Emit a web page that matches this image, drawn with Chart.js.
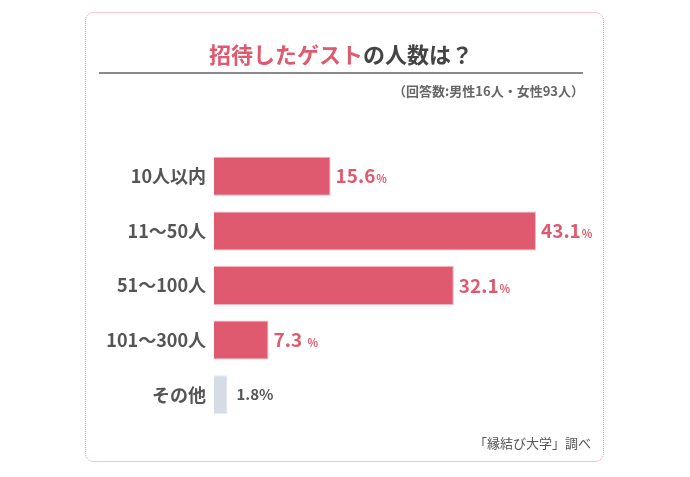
<!DOCTYPE html>
<html lang="ja">
<head>
<meta charset="utf-8">
<title>招待したゲストの人数は？</title>
<script src="https://cdn.jsdelivr.net/npm/chart.js@4"></script>
<style>
  html, body { margin: 0; padding: 0; background: #fff; }
  #wrap { position: relative; width: 690px; height: 477px; }
</style>
</head>
<body>
<div id="wrap"><canvas id="guest-chart" width="690" height="477"></canvas></div>
<script>
// data
const categories = ['10人以内', '11〜50人', '51〜100人', '101〜300人', 'その他'];
const shares = [15.6, 43.1, 32.1, 7.3, 1.8];
const valueLabels = ['15.6', '43.1', '32.1', '7.3 ', '1.8'];
const barColors = ['#df5a6e', '#df5a6e', '#df5a6e', '#df5a6e', '#d6dce6'];

const FONT = '"Noto Sans CJK JP", "Noto Sans", sans-serif';
const RED = '#df5a6e';

// card, title, note, footnote
const framePlugin = {
  id: 'frame',
  beforeDraw(chart) {
    const { ctx } = chart;
    ctx.save();
    ctx.fillStyle = '#fff';
    ctx.fillRect(0, 0, chart.width, chart.height);
    ctx.strokeStyle = '#ec8fa2';
    ctx.lineWidth = 1;
    ctx.setLineDash([1, 1]);
    ctx.beginPath();
    ctx.roundRect(85.5, 12.5, 518, 449, 8);
    ctx.stroke();
    ctx.setLineDash([]);

    // title, two colours
    ctx.font = `bold 22px ${FONT}`;
    ctx.textBaseline = 'middle';
    const red = '招待したゲスト', rest = 'の人数は？';
    const wr = ctx.measureText(red).width, wt = ctx.measureText(rest).width;
    let x = 341 - (wr + wt) / 2;
    ctx.textAlign = 'left';
    ctx.fillStyle = RED;
    ctx.fillText(red, x, 55);
    ctx.fillStyle = '#444';
    ctx.fillText(rest, x + wr, 55);

    ctx.strokeStyle = '#8a8a8a';
    ctx.lineWidth = 2;
    ctx.beginPath();
    ctx.moveTo(99, 73);
    ctx.lineTo(583, 73);
    ctx.stroke();

    ctx.font = `bold 13px ${FONT}`;
    ctx.fillStyle = '#666';
    ctx.textAlign = 'right';
    ctx.fillText('（回答数:男性16人・女性93人）', 584, 91);

    ctx.font = `13px ${FONT}`;
    ctx.fillStyle = '#555';
    ctx.fillText('「縁結び大学」調べ', 591, 443);
    ctx.restore();
  }
};

// value labels at bar ends
const valuePlugin = {
  id: 'values',
  afterDatasetsDraw(chart) {
    const { ctx } = chart;
    const meta = chart.getDatasetMeta(0);
    ctx.save();
    ctx.textBaseline = 'alphabetic';
    ctx.textAlign = 'left';
    meta.data.forEach((bar, i) => {
      const other = i === shares.length - 1;
      let x = bar.x + (other ? 9 : 5);
      const y = bar.y + (other ? 5 : 7);
      if (other) {
        ctx.font = `bold 15px ${FONT}`;
        ctx.fillStyle = '#555';
        ctx.fillText(valueLabels[i] + '%', x, y);
        return;
      }
      ctx.font = `bold 19px ${FONT}`;
      ctx.fillStyle = RED;
      ctx.fillText(valueLabels[i], x, y);
      x += ctx.measureText(valueLabels[i]).width + 1;
      ctx.font = `bold 11px ${FONT}`;
      ctx.fillText('%', x, y);
    });
    ctx.restore();
  }
};

new Chart(document.getElementById('guest-chart'), {
  type: 'bar',
  data: {
    labels: categories,
    datasets: [{
      data: shares,
      backgroundColor: barColors,
      borderColor: ['#f2b3be', '#f2b3be', '#f2b3be', '#f2b3be', '#e6eaf0'],
      borderWidth: 1,
      categoryPercentage: 1,
      barPercentage: 0.714
    }]
  },
  options: {
    indexAxis: 'y',
    responsive: false,
    animation: false,
    layout: { padding: { left: 0, top: 149, right: 102.5, bottom: 55 } },
    plugins: { legend: { display: false }, tooltip: { enabled: false } },
    scales: {
      x: { min: 0, max: 50, display: false },
      y: {
        grid: { display: false, drawTicks: false },
        border: { display: false },
        afterFit(scale) { scale.width = 214; },
        ticks: {
          padding: 8,
          color: '#555',
          font: { family: FONT, size: 18, weight: 'bold' }
        }
      }
    }
  },
  plugins: [framePlugin, valuePlugin]
});
</script>
</body>
</html>
